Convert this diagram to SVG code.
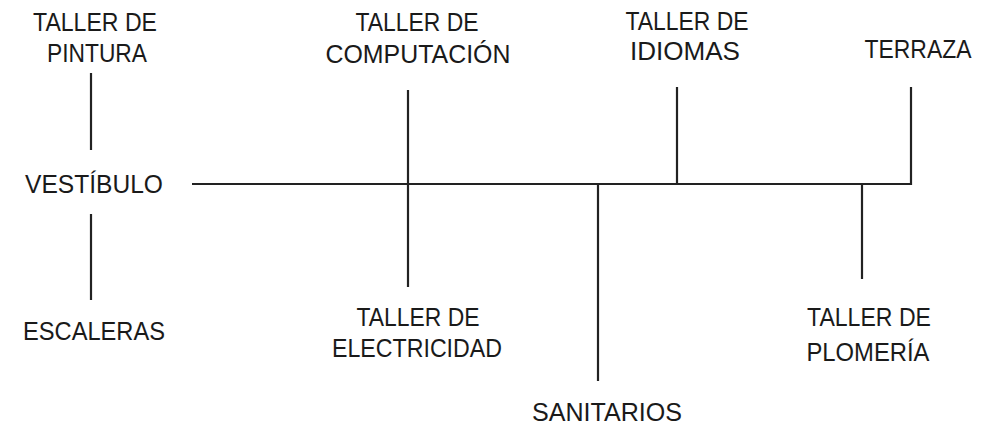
<svg xmlns="http://www.w3.org/2000/svg" width="993" height="426" viewBox="0 0 993 426">
<style>
text{font-family:"Liberation Sans","DejaVu Sans",sans-serif;font-size:25px;fill:#1a1a1a;text-anchor:middle}
.c line{stroke:#222;stroke-width:2.2;stroke-linecap:butt}
</style>
<rect width="993" height="426" fill="#fff"/>
<g class="c" id="connectors">
<line x1="192" y1="184" x2="912" y2="184"/>
<line x1="91" y1="73" x2="91" y2="150"/>
<line x1="91" y1="214" x2="91" y2="300"/>
<line x1="408" y1="90" x2="408" y2="287"/>
<line x1="677" y1="87" x2="677" y2="184"/>
<line x1="911" y1="87" x2="911" y2="185"/>
<line x1="598" y1="184" x2="598" y2="381"/>
<line x1="862" y1="184" x2="862" y2="279"/>
</g>
<g id="pintura"><text x="95" y="31" textLength="124" lengthAdjust="spacingAndGlyphs">TALLER DE</text><text x="97" y="62" textLength="100" lengthAdjust="spacingAndGlyphs">PINTURA</text></g>
<g id="computacion"><text x="417" y="31" textLength="123" lengthAdjust="spacingAndGlyphs">TALLER DE</text><text x="418" y="63" textLength="185" lengthAdjust="spacingAndGlyphs">COMPUTACIÓN</text></g>
<g id="idiomas"><text x="687" y="30" textLength="123" lengthAdjust="spacingAndGlyphs">TALLER DE</text><text x="685" y="60" textLength="110" lengthAdjust="spacingAndGlyphs">IDIOMAS</text></g>
<g id="terraza"><text x="918" y="58" textLength="107" lengthAdjust="spacingAndGlyphs">TERRAZA</text></g>
<g id="vestibulo"><text x="94" y="193" textLength="138" lengthAdjust="spacingAndGlyphs">VESTÍBULO</text></g>
<g id="escaleras"><text x="94" y="340" textLength="142" lengthAdjust="spacingAndGlyphs">ESCALERAS</text></g>
<g id="electricidad"><text x="418" y="326" textLength="123" lengthAdjust="spacingAndGlyphs">TALLER DE</text><text x="417" y="357" textLength="170" lengthAdjust="spacingAndGlyphs">ELECTRICIDAD</text></g>
<g id="sanitarios"><text x="607" y="421" textLength="150" lengthAdjust="spacingAndGlyphs">SANITARIOS</text></g>
<g id="plomeria"><text x="869" y="326" textLength="124" lengthAdjust="spacingAndGlyphs">TALLER DE</text><text x="868" y="361" textLength="123" lengthAdjust="spacingAndGlyphs">PLOMERÍA</text></g>
</svg>
